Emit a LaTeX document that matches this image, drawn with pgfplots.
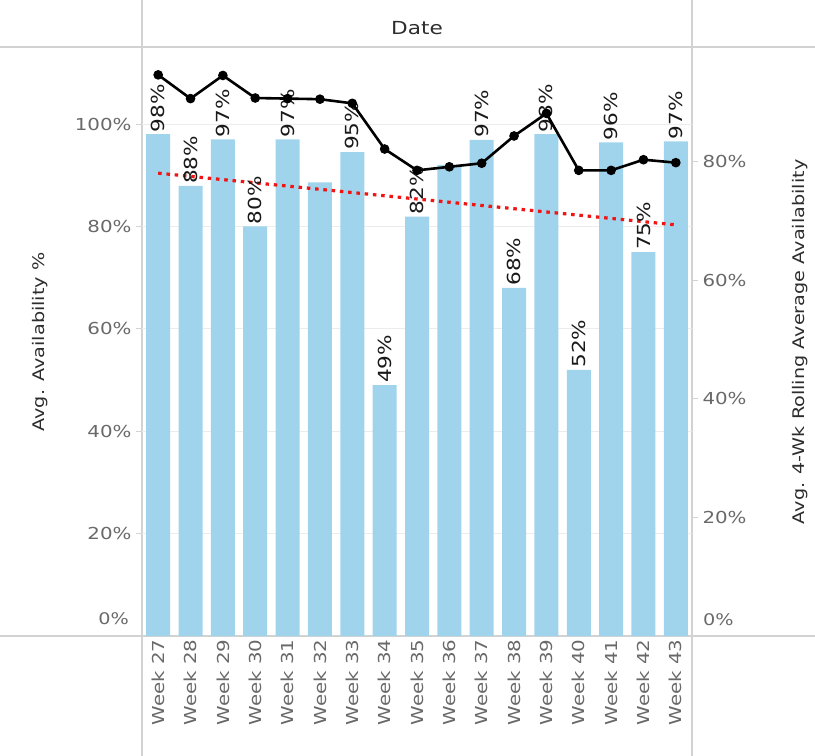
\documentclass[border=0pt]{standalone}
\usepackage{pgfplots}
\pgfplotsset{compat=1.18}
\usepackage{fontspec}
\setmainfont{DejaVu Sans}[FakeStretch=1.2]
\definecolor{barblue}{RGB}{160,212,236}
\definecolor{tickgray}{RGB}{105,105,105}
\definecolor{titlegray}{RGB}{45,45,45}
\definecolor{linegray}{RGB}{210,210,210}
\definecolor{gridgray}{RGB}{236,236,236}
\definecolor{trendred}{RGB}{240,20,20}
\begin{document}
\begin{tikzpicture}[x=1pt,y=1pt]
\useasboundingbox (0,0) rectangle (815,756);
\draw[linegray, line width=1.2pt] (0,709) -- (815,709);
\draw[linegray, line width=1.2pt] (0,120) -- (815,120);
\draw[linegray, line width=1.2pt] (142,0) -- (142,756);
\draw[linegray, line width=1.2pt] (692,0) -- (692,756);
\node[font=\fontsize{18}{21}\selectfont, text=titlegray] at (417,728) {Date};
\node[rotate=90, font=\fontsize{16}{19}\selectfont, text=titlegray] at (40,414) {Avg. Availability \%};
\node[rotate=90, font=\fontsize{16}{19}\selectfont, text=titlegray] at (800,414) {Avg. 4-Wk Rolling Average Availability};
\node[anchor=east, font=\fontsize{16}{19}\selectfont, text=tickgray, inner sep=0pt] at (129,137) {0\%};
\node[anchor=west, font=\fontsize{16}{19}\selectfont, text=tickgray, inner sep=0pt] at (703,136) {0\%};
\begin{axis}[
  at={(142pt,120pt)}, anchor=south west, scale only axis,
  width=550pt, height=589pt,
  xmin=-0.5, xmax=16.5, ymin=0, ymax=115.04,
  axis line style={draw=none},
  /pgf/number format/assume math mode=true,
  ytick={20,40,60,80,100},
  yticklabel={\pgfmathprintnumber{\tick}\%},
  ytick pos=left, ytick align=outside, major tick length=6pt,
  ytick style={linegray, line width=0.8pt},
  yticklabel style={text=tickgray, font=\fontsize{16.5}{19}\selectfont, xshift=-1pt},
  ymajorgrids, grid style={gridgray, line width=0.8pt},
  xtick={0,...,16},
  xticklabels={Week 27,Week 28,Week 29,Week 30,Week 31,Week 32,Week 33,Week 34,Week 35,Week 36,Week 37,Week 38,Week 39,Week 40,Week 41,Week 42,Week 43},
  xtick pos=bottom, xtick style={draw=none},
  xticklabel style={rotate=90, anchor=east, text=tickgray, font=\fontsize{16.5}{19}\selectfont, yshift=0pt},
  clip=false,
]
\addplot[ybar, bar width=24pt, fill=barblue, draw=none] coordinates {
(0,98) (1,87.9) (2,97) (3,80) (4,97) (5,88.6) (6,94.5) (7,49) (8,81.9) (9,92) (10,96.9) (11,68) (12,98) (13,52) (14,96.4) (15,75) (16,96.6)};
\addplot[draw=none, mark=none, nodes near coords, point meta=explicit symbolic,
  nodes near coords style={rotate=90, anchor=west, text=black!90, font=\fontsize{18}{21}\selectfont, inner sep=2pt}]
 coordinates {
(0,98) [98\%] (1,87.9) [88\%] (2,97) [97\%] (3,80) [80\%] (4,97) [97\%] (6,94.5) [95\%] (7,49) [49\%] (8,81.9) [82\%] (10,96.9) [97\%] (11,68) [68\%] (12,98) [98\%] (13,52) [52\%] (14,96.4) [96\%] (15,75) [75\%] (16,96.6) [97\%]};
\addplot[trendred, line width=3.2pt, dash pattern=on 3.5pt off 4.8pt] coordinates {(0,90.4) (16,80.3)};
\end{axis}
\begin{axis}[
  at={(142pt,120pt)}, anchor=south west, scale only axis,
  width=550pt, height=589pt,
  xmin=-0.5, xmax=16.5, ymin=0, ymax=99.3,
  axis line style={draw=none},
  /pgf/number format/assume math mode=true,
  xtick=\empty,
  ytick={20,40,60,80},
  yticklabel={\pgfmathprintnumber{\tick}\%},
  ytick pos=right, yticklabel pos=right, ytick align=outside, major tick length=6pt,
  ytick style={linegray, line width=0.8pt},
  yticklabel style={text=tickgray, font=\fontsize{16.5}{19}\selectfont, anchor=west, xshift=1pt},
  clip=false,
]
\addplot[black, line width=2.6pt, mark=*, mark size=4.3pt, mark options={fill=black, line width=1pt}] coordinates {
(0,94.6) (1,90.6) (2,94.5) (3,90.7) (4,90.6) (5,90.5) (6,89.8) (7,82.1) (8,78.5) (9,79.1) (10,79.7) (11,84.3) (12,88.1) (13,78.5) (14,78.5) (15,80.3) (16,79.8)};
\end{axis}
\end{tikzpicture}
\end{document}
